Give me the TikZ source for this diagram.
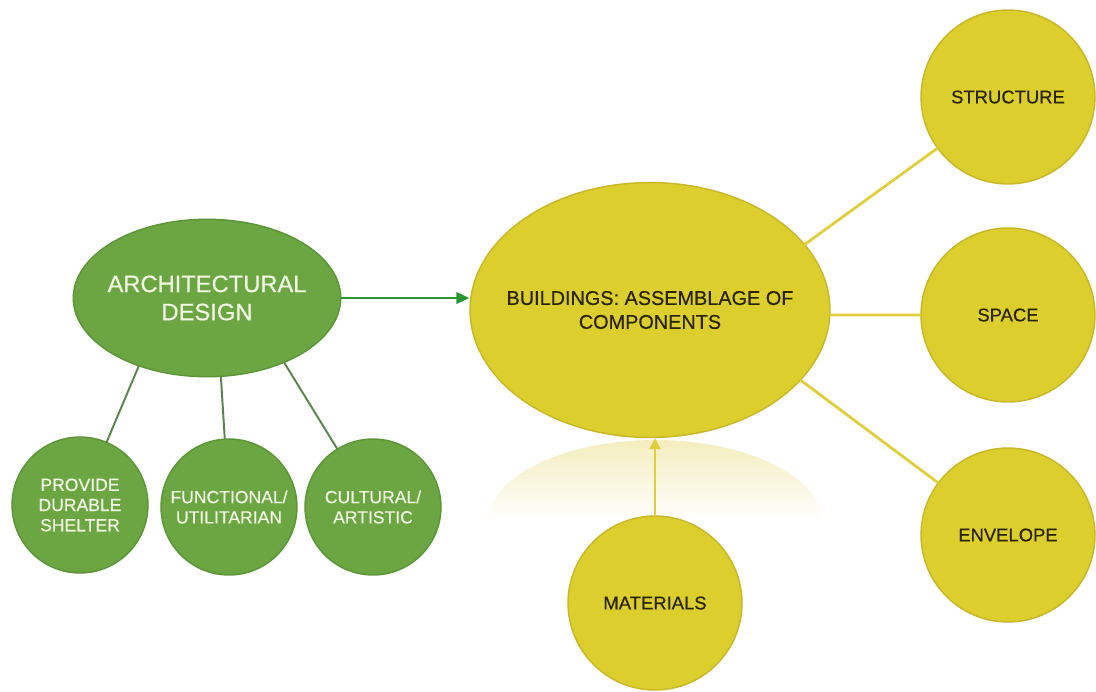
\documentclass[tikz,border=0pt]{standalone}
\usepackage{fontspec}
\setmainfont{Liberation Sans}[FakeBold=0.5]
\usetikzlibrary{shapes.geometric,arrows.meta}
\definecolor{leafgreen}{RGB}{108,166,66}
\definecolor{leafrim}{RGB}{92,148,56}
\definecolor{leafline}{RGB}{88,132,76}
\definecolor{leafarrow}{RGB}{38,150,50}
\definecolor{leaftext}{RGB}{242,246,228}
\definecolor{sunyellow}{RGB}{220,206,44}
\definecolor{sunrim}{RGB}{198,182,40}
\definecolor{sunline}{RGB}{224,206,62}
\definecolor{suntext}{RGB}{42,36,14}
\definecolor{sunglow}{RGB}{244,237,190}
\begin{document}
\begin{tikzpicture}[x=0.02cm,y=-0.02cm,line join=round,line cap=round,
	greenell/.style={ellipse,fill=leafgreen,draw=leafrim,line width=0.8pt,minimum width=5.35cm,minimum height=3.15cm,inner sep=0pt},
	greenball/.style={circle,fill=leafgreen,draw=leafrim,line width=0.8pt,minimum size=2.72cm,inner sep=0pt,align=center,text=leaftext,font=\fontsize{10}{11.5}\selectfont},
	yellowell/.style={ellipse,fill=sunyellow,draw=sunrim,line width=0.8pt,minimum width=7.2cm,minimum height=5.1cm,inner sep=0pt},
	yellowball/.style={circle,fill=sunyellow,draw=sunrim,line width=0.8pt,minimum size=3.48cm,inner sep=0pt,align=center,text=suntext,font=\fontsize{10.5}{12.5}\selectfont},
	gline/.style={draw=leafline,line width=1.1pt},
	yline/.style={draw=sunline,line width=1.6pt}]
	\useasboundingbox (0,0) rectangle (1096,691);
	% soft glow under the buildings
	\shade[top color=sunglow,bottom color=white] (488,522) .. controls (488,477) and (563,440) .. (655,440) .. controls (747,440) and (822,477) .. (822,522) -- cycle;
	% design side
	\node[greenell,label={[text=leaftext,align=center,font=\fontsize{13.5}{16}\selectfont]center:ARCHITECTURAL\\DESIGN}] (ad) at (207,298) {};
	\node[greenball] (shelter) at (80,505) {PROVIDE\\DURABLE\\SHELTER};
	\node[greenball] (func) at (229,507) {FUNCTIONAL/\\UTILITARIAN};
	\node[greenball] (cult) at (373,507) {CULTURAL/\\ARTISTIC};
	% building side
	\node[yellowell,label={[text=suntext,align=center,font=\fontsize{11.3}{13.6}\selectfont]center:BUILDINGS: ASSEMBLAGE OF\\COMPONENTS}] (bld) at (650,310) {};
	\node[yellowball] (struct) at (1008,97) {STRUCTURE};
	\node[yellowball] (space) at (1008,315) {SPACE};
	\node[yellowball] (env) at (1008,535) {ENVELOPE};
	\node[yellowball] (mat) at (655,603) {MATERIALS};
	% connectors
	\draw[gline] (ad.225) -- (shelter) (ad.280) -- (func) (ad.320) -- (cult);
	\draw[draw=leafarrow,line width=1.4pt,-{Triangle[length=2.6mm,width=2.3mm]}] (ad.east) -- (ad.east -| bld.west);
	\draw[yline] (bld.23) -- (struct) (space.west) -- (space.west -| bld.east) (bld.-25) -- (env);
	\draw[yline,-{Triangle[length=2.2mm,width=2.2mm]}] (mat.north) -- (mat.north |- bld.south);
\end{tikzpicture}
\end{document}
